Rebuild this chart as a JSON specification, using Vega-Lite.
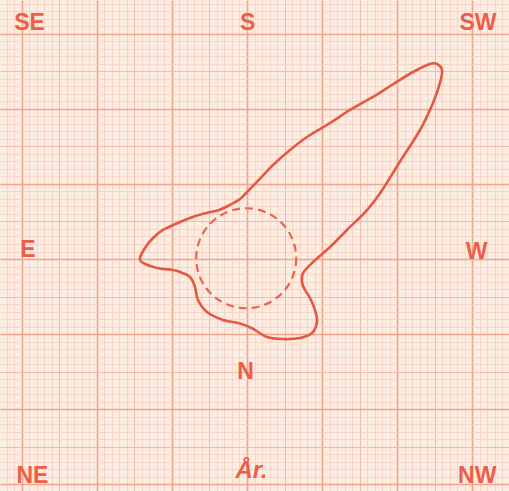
{
  "$schema": "https://vega.github.io/schema/vega-lite/v6.json",
  "autosize": {"type": "fit", "contains": "padding"},
  "width": 509,
  "height": 491,
  "padding": 0,
  "background": "#fcece2",
  "config": {"view": {"stroke": null}},
  "datasets": {
    "outline": [
      {"i": 1, "x": -14.27, "y": 0.13}, {"i": 2, "x": -13.6, "y": 1.47}, {"i": 3, "x": -12.53, "y": 2.8},
      {"i": 4, "x": -11.2, "y": 3.87}, {"i": 5, "x": -8.93, "y": 4.93}, {"i": 6, "x": -6.67, "y": 5.8},
      {"i": 7, "x": -4.93, "y": 6.27}, {"i": 8, "x": -3.8, "y": 6.5}, {"i": 9, "x": -2.67, "y": 7.0},
      {"i": 10, "x": -0.93, "y": 8.0}, {"i": 11, "x": 0, "y": 8.93}, {"i": 12, "x": 1.33, "y": 10.27},
      {"i": 13, "x": 3.47, "y": 12.53}, {"i": 14, "x": 5.73, "y": 14.53}, {"i": 15, "x": 8.0, "y": 16.27},
      {"i": 16, "x": 11.07, "y": 18.13}, {"i": 17, "x": 13.73, "y": 19.87}, {"i": 18, "x": 16.8, "y": 21.6},
      {"i": 19, "x": 19.47, "y": 23.3}, {"i": 20, "x": 22.13, "y": 24.93}, {"i": 21, "x": 24.4, "y": 26.0},
      {"i": 22, "x": 25.33, "y": 26.0}, {"i": 23, "x": 26.0, "y": 25.2}, {"i": 24, "x": 25.73, "y": 23.47},
      {"i": 25, "x": 24.8, "y": 20.8}, {"i": 26, "x": 23.07, "y": 17.2}, {"i": 27, "x": 20.4, "y": 13.0},
      {"i": 28, "x": 17.9, "y": 9.0}, {"i": 29, "x": 16.0, "y": 6.53}, {"i": 30, "x": 13.33, "y": 3.87},
      {"i": 31, "x": 11.07, "y": 1.6}, {"i": 32, "x": 8.8, "y": -0.4}, {"i": 33, "x": 7.47, "y": -1.87},
      {"i": 34, "x": 7.33, "y": -3.07}, {"i": 35, "x": 7.73, "y": -4.13}, {"i": 36, "x": 8.4, "y": -5.2},
      {"i": 37, "x": 9.07, "y": -6.8}, {"i": 38, "x": 9.33, "y": -8.4}, {"i": 39, "x": 8.67, "y": -9.87},
      {"i": 40, "x": 7.07, "y": -10.53}, {"i": 41, "x": 4.8, "y": -10.67}, {"i": 42, "x": 2.67, "y": -10.4},
      {"i": 43, "x": 0.8, "y": -9.3}, {"i": 44, "x": -0.93, "y": -8.6}, {"i": 45, "x": -3.2, "y": -8.13},
      {"i": 46, "x": -5.33, "y": -7.07}, {"i": 47, "x": -6.53, "y": -5.47}, {"i": 48, "x": -6.93, "y": -3.73},
      {"i": 49, "x": -7.6, "y": -2.4}, {"i": 50, "x": -8.93, "y": -1.73}, {"i": 51, "x": -9.87, "y": -1.47},
      {"i": 52, "x": -12.0, "y": -1.2}, {"i": 53, "x": -13.87, "y": -0.53}
    ],
    "calm": [{"x": -0.1, "y": 0.1}],
    "labels": [
      {"label": "SE", "x": -29.0, "y": 31.5},
      {"label": "S", "x": 0.1, "y": 31.5},
      {"label": "SW", "x": 30.8, "y": 31.5},
      {"label": "E", "x": -29.2, "y": 1.2},
      {"label": "W", "x": 30.6, "y": 1.0},
      {"label": "NE", "x": -28.6, "y": -28.9},
      {"label": "N", "x": -0.2, "y": -15.1},
      {"label": "NW", "x": 30.7, "y": -28.9}
    ],
    "title": [{"label": "År.", "x": 0.6, "y": -28.3}]
  },
  "resolve": {"axis": {"x": "independent", "y": "independent"}},
  "layer": [
    {
      "data": {"name": "calm"},
      "mark": {"type": "point", "shape": "circle", "size": 10000, "filled": false, "stroke": "#e86650", "strokeWidth": 2.2, "strokeDash": [8, 5], "opacity": 1},
      "encoding": {
        "x": {"field": "x", "type": "quantitative",
              "scale": {"domain": [-32.93, 34.93], "nice": false, "zero": false},
              "axis": {"title": null, "labels": false, "ticks": false, "domain": false, "grid": true, "gridColor": "#f6cdbb", "gridWidth": 0.7, "gridOpacity": 1,
                       "values": [-32,-31,-30,-29,-28,-27,-26,-25,-24,-23,-22,-21,-20,-19,-18,-17,-16,-15,-14,-13,-12,-11,-10,-9,-8,-7,-6,-5,-4,-3,-2,-1,0,1,2,3,4,5,6,7,8,9,10,11,12,13,14,15,16,17,18,19,20,21,22,23,24,25,26,27,28,29,30,31,32,33,34]}},
        "y": {"field": "y", "type": "quantitative",
              "scale": {"domain": [-30.93, 34.53], "nice": false, "zero": false},
              "axis": {"title": null, "labels": false, "ticks": false, "domain": false, "grid": true, "gridColor": "#f6cdbb", "gridWidth": 0.7, "gridOpacity": 1,
                       "values": [-30,-29,-28,-27,-26,-25,-24,-23,-22,-21,-20,-19,-18,-17,-16,-15,-14,-13,-12,-11,-10,-9,-8,-7,-6,-5,-4,-3,-2,-1,0,1,2,3,4,5,6,7,8,9,10,11,12,13,14,15,16,17,18,19,20,21,22,23,24,25,26,27,28,29,30,31,32,33,34]}}
      }
    },
    {
      "data": {"name": "outline"},
      "mark": {"type": "line", "interpolate": "cardinal-closed", "stroke": "#e55842", "strokeWidth": 2.6},
      "encoding": {
        "x": {"field": "x", "type": "quantitative",
              "axis": {"title": null, "labels": false, "ticks": false, "domain": false, "grid": true, "gridColor": "#f2bca6", "gridWidth": 1, "gridOpacity": 1,
                       "values": [-25, -15, -5, 5, 15, 25]}},
        "y": {"field": "y", "type": "quantitative",
              "axis": {"title": null, "labels": false, "ticks": false, "domain": false, "grid": true, "gridColor": "#f2bca6", "gridWidth": 1, "gridOpacity": 1,
                       "values": [-25, -15, -5, 5, 15, 25]}},
        "order": {"field": "i", "type": "quantitative"}
      }
    },
    {
      "data": {"name": "labels"},
      "mark": {"type": "text", "font": "Liberation Sans", "fontWeight": "bold", "fontSize": 23, "fill": "#ec5e48", "align": "center", "baseline": "middle"},
      "encoding": {
        "x": {"field": "x", "type": "quantitative",
              "axis": {"title": null, "labels": false, "ticks": false, "domain": false, "grid": true, "gridColor": "#eea58c", "gridWidth": 1.6, "gridOpacity": 1,
                       "values": [-30, -20, -10, 0, 10, 20, 30]}},
        "y": {"field": "y", "type": "quantitative",
              "axis": {"title": null, "labels": false, "ticks": false, "domain": false, "grid": true, "gridColor": "#eea58c", "gridWidth": 1.6, "gridOpacity": 1,
                       "values": [-30, -20, -10, 0, 10, 20, 30]}},
        "text": {"field": "label", "type": "nominal"}
      }
    },
    {
      "data": {"name": "title"},
      "mark": {"type": "text", "font": "Liberation Sans", "fontWeight": "bold", "fontStyle": "italic", "fontSize": 24, "fill": "#ec5e48", "align": "center", "baseline": "middle"},
      "encoding": {
        "x": {"field": "x", "type": "quantitative", "axis": null},
        "y": {"field": "y", "type": "quantitative", "axis": null},
        "text": {"field": "label", "type": "nominal"}
      }
    }
  ]
}
